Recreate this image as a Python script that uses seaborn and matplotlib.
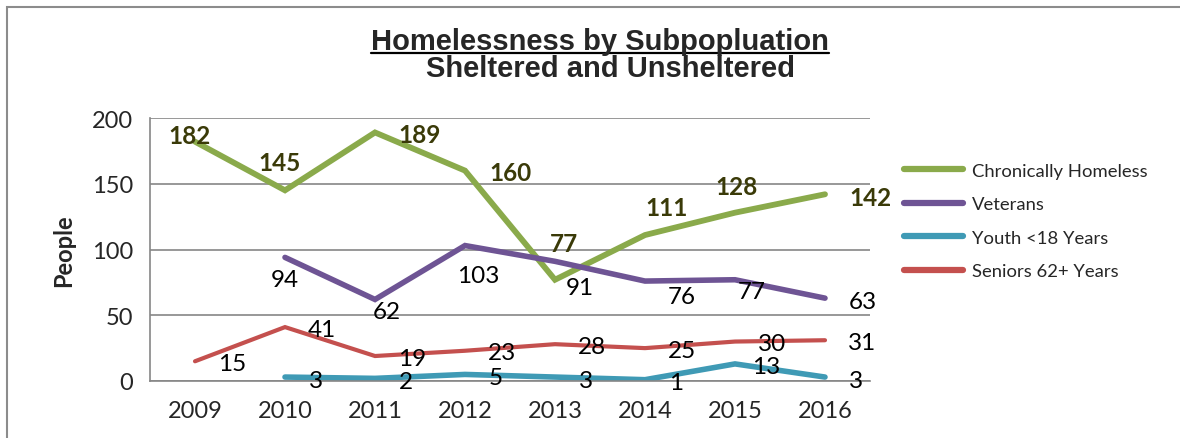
import seaborn as sns
import matplotlib.pyplot as plt
import pandas as pd
from matplotlib import font_manager
from matplotlib.lines import Line2D
from matplotlib.patches import Rectangle

# -------------------------------
# DATA
# -------------------------------
years = ["2009", "2010", "2011", "2012", "2013", "2014", "2015", "2016"]
chronic = [182, 145, 189, 160, 77, 111, 128, 142]
veterans = [None, 94, 62, 103, 91, 76, 77, 63]
youth = [None, 3, 2, 5, 3, 1, 13, 3]
seniors = [15, 41, 19, 23, 28, 25, 30, 31]

series_names = ["Chronically Homeless", "Veterans", "Youth <18 Years", "Seniors 62+ Years"]
series_values = [chronic, veterans, youth, seniors]
colors = ["#8AAA4B", "#6E5494", "#3F9AB5", "#C4504E"]
widths = [4.2, 4.0, 4.0, 3.0]

# label offsets in pixels (style only), one per point
label_offsets = [
    [(-5, 6), (-5, 28), (45, -2), (45, -2), (9, 36), (22, 28), (2, 26), (45, -3)],
    [None, (0, -22), (12, -12), (13, -30), (25, -26), (37, -15), (17, -12), (38, -3)],
    [None] + [(31, -3)] * 7,
    [(37, -2)] * 8,
]

# long table for seaborn
rows = []
for name, vals in zip(series_names, series_values):
    for yr, v in zip(years, vals):
        if v is not None:
            rows.append({"year": yr, "people": v, "series": name})
df = pd.DataFrame(rows)

# -------------------------------
# STYLE
# -------------------------------
sns.set_style("white")
plt.rcParams["font.family"] = ["Lato", "DejaVu Sans"]

names = {f.name for f in font_manager.fontManager.ttflist}
title_font = "Liberation Sans" if "Liberation Sans" in names else "DejaVu Sans"

fig = plt.figure(figsize=(11.8, 4.39), dpi=100)
ax = fig.add_axes([150 / 1180, 1 - 382 / 439, 720 / 1180, 263 / 439])

# chart border
fig.patches.append(Rectangle((7 / 1180, -0.1), 1.2, 1 - 8 / 439 + 0.1, transform=fig.transFigure,
                             fill=False, edgecolor="#8c8c8c", linewidth=1.5))

sns.lineplot(data=df, x="year", y="people", hue="series", hue_order=series_names,
             palette=colors, sort=False, ax=ax, legend=False)
for line, lw in zip(ax.lines, widths):
    line.set_linewidth(lw)
    line.set_solid_capstyle("round")
    line.set_solid_joinstyle("miter")

# data labels
for i, (vals, offs) in enumerate(zip(series_values, label_offsets)):
    for x, (v, off) in enumerate(zip(vals, offs)):
        if v is None:
            continue
        if i == 0:
            kw = dict(fontweight="bold", color="#3a3a08")
        else:
            kw = dict(color="black")
        ax.annotate(str(v), (x, v), xytext=off, textcoords="offset pixels",
                    ha="center", va="center", fontsize=17.5, **kw)

# axes
ax.set_xlim(-0.5, len(years) - 0.5)
ax.set_ylim(0, 200)
ax.set_yticks([0, 50, 100, 150, 200])
ax.set_xticks(range(len(years)))
ax.set_xticklabels(years)
ax.set_xticks([k - 0.5 for k in range(len(years) + 1)], minor=True)
ax.tick_params(axis="x", which="major", length=0, pad=14, labelsize=17)
ax.tick_params(axis="x", which="minor", length=6, width=1.2, color="#868686", direction="out")
ax.tick_params(axis="y", length=6, width=1.2, color="#868686", direction="out", pad=6, labelsize=17)
ax.yaxis.grid(True, color="#868686", linewidth=1.2)
ax.set_axisbelow(True)
for s in ["top", "right"]:
    ax.spines[s].set_visible(False)
for s in ["left", "bottom"]:
    ax.spines[s].set_color("#868686")
    ax.spines[s].set_linewidth(1.2)
ax.set_xlabel("")
ax.set_ylabel("People", fontsize=17, fontweight="bold", labelpad=12)

# legend
handles = [Line2D([], [], color=c, linewidth=4.5, solid_capstyle="round") for c in colors]
fig.legend(handles, series_names, loc="upper left", bbox_to_anchor=(887 / 1180, 1 - 147 / 439),
           frameon=False, fontsize=13.3, handlelength=3.2, labelspacing=0.95, handletextpad=0.5)

# title (two lines, first one underlined)
t1 = fig.text(600 / 1180, 1 - 50 / 439, "Homelessness by Subpopluation", ha="center", va="baseline",
              fontsize=21, fontweight="bold", family=title_font)
fig.text(610 / 1180, 1 - 77 / 439, "Sheltered and Unsheltered", ha="center", va="baseline",
         fontsize=21, fontweight="bold", family=title_font)
fig.canvas.draw()
bb = t1.get_window_extent().transformed(fig.transFigure.inverted())
fig.add_artist(Line2D([bb.x0, bb.x1], [1 - 53.5 / 439] * 2, color="black",
                      linewidth=1.6, transform=fig.transFigure))

plt.savefig("out.png", dpi=100)
